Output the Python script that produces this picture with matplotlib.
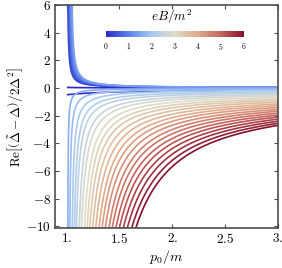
import matplotlib
matplotlib.use("Agg")
import matplotlib.pyplot as plt
import numpy as np
from matplotlib.colors import LinearSegmentedColormap, Normalize
from matplotlib.cm import ScalarMappable

plt.rcParams['mathtext.fontset'] = 'cm'
plt.rcParams['font.family'] = 'serif'
plt.rcParams['font.serif'] = ['DejaVu Serif']

# ramas positivas (eB/m^2 = 0.2 .. 1.4): p donde la curva vale 6 y donde vale 2
pos_b = [0.2, 0.4, 0.6, 0.8, 1.0, 1.2, 1.4]
pos_p6 = [1.012, 1.018, 1.024, 1.030, 1.037, 1.044, 1.052]
pos_p2 = [1.028, 1.037, 1.045, 1.054, 1.062, 1.071, 1.080]

# ramas negativas (eB/m^2 = 1.6 .. 6.0): p donde cruzan -10 y valor en p0/m = 3
neg_b = [round(1.6 + 0.2 * i, 1) for i in range(23)]
neg_pcross = [1.012, 1.031, 1.054, 1.075, 1.094, 1.120, 1.142, 1.170, 1.195,
              1.220, 1.248, 1.277, 1.308, 1.337, 1.368, 1.403, 1.434, 1.469,
              1.503, 1.540, 1.578, 1.620, 1.660]
neg_v3 = [-0.05, -0.11, -0.19, -0.28, -0.37, -0.47, -0.57, -0.68, -0.80,
          -0.91, -1.03, -1.16, -1.28, -1.41, -1.55, -1.68, -1.82, -1.96,
          -2.10, -2.25, -2.40, -2.55, -2.70]

# eB/m^2 = 0: dos trazos cerca del umbral (valor en p0/m = 1.01 y 1.25)
cero_sup = [0.04, 0.02]
cero_inf = [-0.48, -0.35]

colores = [(0.17, 0.16, 0.78), (0.36, 0.52, 0.92), (0.66, 0.79, 0.95),
           (0.87, 0.86, 0.78), (0.88, 0.67, 0.54), (0.78, 0.39, 0.37),
           (0.52, 0.06, 0.17)]
cmap = LinearSegmentedColormap.from_list('temp', colores)
norm = Normalize(0, 6)

fig = plt.figure(figsize=(2.82, 2.68), dpi=100)
ax = fig.add_axes([55 / 282, 1 - 228 / 268, 223 / 282, 223 / 268])

lw = 1.2


def rama(v1, v2, p1=1.01, p2=1.25):
    # hiperbola k/(p-c) que pasa por (p1, v1) y (p2, v2)
    r = v1 / v2
    c = (r * p1 - p2) / (r - 1)
    k = v1 * (p1 - c)
    pp = np.linspace(p1, 3.0, 800)
    return pp, k / (pp - c)


# B = 0
for vals in (cero_inf, cero_sup):
    pp, yy = rama(*vals)
    ax.plot(pp, yy, color=cmap(norm(0)), lw=lw)

# curvas positivas
for b, p6, p2 in zip(pos_b, pos_p6, pos_p2):
    c = (3 * p6 - p2) / 2
    a = 6 * (p6 - c)
    pp = np.linspace(c + 1e-4, 3.0, 3000)
    ax.plot(pp, a / (pp - c), color=cmap(norm(b)), lw=lw)

# curvas negativas
n = len(neg_b)
for i, (b, pc, v3) in enumerate(zip(neg_b, neg_pcross, neg_v3)):
    r = 0.75 - 0.37 * i / (n - 1)
    c = 1 + r * (pc - 1)
    A = (10 + v3) / (1 / (pc - c) - 1 / (3 - c))
    d = v3 + A / (3 - c)
    pp = np.linspace(c + 1e-4, 3.0, 3000)
    ax.plot(pp, -A / (pp - c) + d, color=cmap(norm(b)), lw=lw)

ax.set_xlim(0.89, 3.0)
ax.set_ylim(-10.12, 6.0)

xt = [1.0, 1.5, 2.0, 2.5, 3.0]
ax.set_xticks(xt)
ax.set_xticklabels([r'$1.$', r'$1.5$', r'$2.$', r'$2.5$', r'$3.$'], fontsize=9.5)
yt = [6, 4, 2, 0, -2, -4, -6, -8, -10]
ax.set_yticks(yt)
ax.set_yticklabels([r'$%d$' % v if v >= 0 else r'$-%d$' % (-v) for v in yt], fontsize=9.5)
ax.tick_params(direction='in', length=3, width=0.8, top=True, right=True,
               color='0.3', pad=3)
for s in ax.spines.values():
    s.set_color('0.3')
    s.set_linewidth(1.2)

ax.set_xlabel(r'$p_0/m$', fontsize=10, labelpad=1)
ax.set_ylabel(r'$\mathrm{Re}\left[\left(\tilde{\Delta}-\Delta\right)/2\Delta^2\right]$',
              fontsize=9.5, labelpad=1)

# barra de color
cax = fig.add_axes([106 / 282, 1 - 37 / 268, 138 / 282, 6 / 268])
cb = fig.colorbar(ScalarMappable(norm=norm, cmap=cmap), cax=cax, orientation='horizontal')
cb.outline.set_visible(False)
cb.set_ticks([0, 1, 2, 3, 4, 5, 6])
cb.ax.set_xticklabels([r'$%d$' % i for i in range(7)], fontsize=5.5)
cb.ax.tick_params(length=0, pad=3)
fig.text(172 / 282, 1 - 17 / 268, r'$eB/m^2$', fontsize=9.5, ha='center', va='center')

plt.savefig('out.png', dpi=100)
